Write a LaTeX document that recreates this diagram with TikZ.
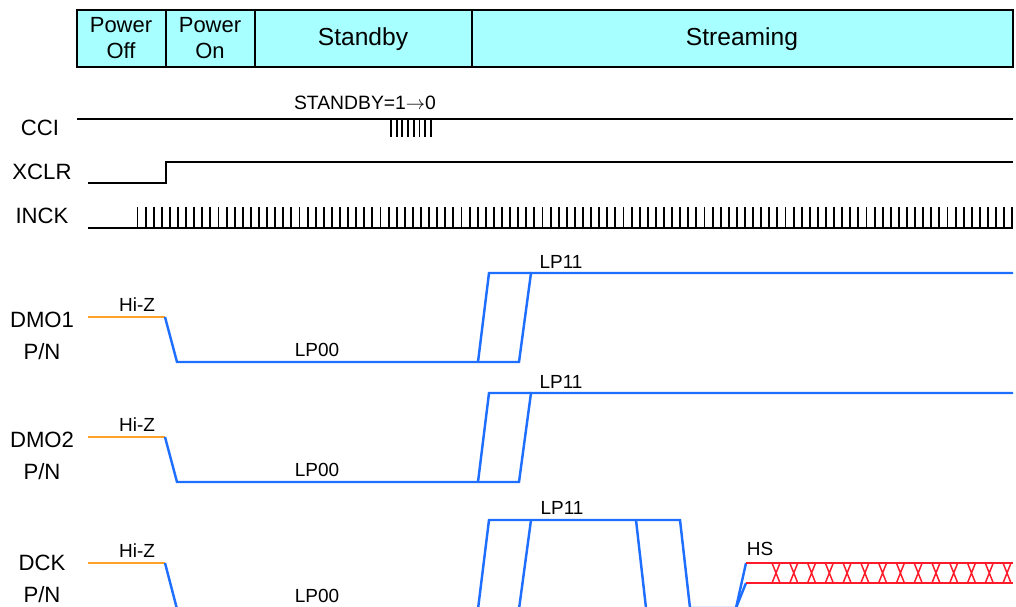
\documentclass[tikz,border=0pt]{standalone}
\usepackage{fontspec}
\setmainfont{Liberation Sans}
\definecolor{modecyan}{HTML}{A8FFFF}
\definecolor{lpblue}{HTML}{1E6EFF}
\definecolor{hizorange}{HTML}{FFA126}
\definecolor{hsred}{HTML}{FF1A2A}

\begin{document}
\begin{tikzpicture}[x=0.02cm, y=-0.02cm,
  sig/.style={line width=1.1pt, black},
  lp/.style={line width=1.4pt, lpblue},
  hiz/.style={line width=1.4pt, hizorange},
  hs/.style={line width=0.85pt, hsred},
  hdr/.style={font=\fontsize{12.5}{14.7}\selectfont, align=center},
  lbl/.style={font=\fontsize{12.6}{18}\selectfont, align=center},
  tag/.style={font=\fontsize{10.8}{12}\selectfont}]

\clip (0,0) rectangle (1016,607);

% mode bar
\draw[fill=modecyan, line width=0.9pt] (77,10) rectangle (1013,67);
\draw[line width=0.9pt] (166,10) -- (166,67);
\draw[line width=0.9pt] (255,10) -- (255,67);
\draw[line width=0.9pt] (472,10) -- (472,67);

\node[hdr] (off) at (121,38) {Power\\Off};
\node[hdr] (on) at (210,38) {Power\\On};
\node[hdr, font=\fontsize{14}{16}\selectfont] (standby) at (363,39) {Standby};
\node[hdr, font=\fontsize{14}{16}\selectfont] (streaming) at (742,39) {Streaming};

% CCI
\node[lbl] (cci) at (40,128) {CCI};
\draw[sig] (77,119) -- (1013,119);
\foreach \i in {0,...,7}
  \draw[sig] (391+5.7*\i,119) -- ++(0,18);
\node[tag, font=\fontsize{11}{12}\selectfont] (cmd) at (365,103) {STANDBY=1$\rightarrow$0};

% XCLR
\node[lbl] (xclr) at (42,172) {XCLR};
\draw[sig] (88,183) -- (166,183) -- (166,162) -- (1013,162);

% INCK
\node[lbl] (inck) at (42,216) {INCK};
\draw[sig] (88,228) -- (1013,228);
\foreach \i in {0,...,108}
  \draw[sig] (137.5+8.1*\i,228) -- ++(0,-21);

% DMO1 and DMO2
\foreach \n/\d in {1/0,2/120} {
  \node[lbl] (dmo\n) at (42,336+\d) {DMO\n\\P/N};
  \draw[hiz] (88,317+\d) -- (165,317+\d);
  \draw[lp] (165,317+\d) -- (177,362+\d) -- (519,362+\d) -- (531,273+\d) -- (1013,273+\d);
  \draw[lp] (478,362+\d) -- (489,273+\d) -- (531,273+\d);
  \node[tag] (hiz\n) at (137,305+\d) {Hi-Z};
  \node[tag] (lpzero\n) at (317,350+\d) {LP00};
  \node[tag] (lpone\n) at (561,262+\d) {LP11};
}

% DCK
\node[lbl] (dck) at (42,579) {DCK\\P/N};
\draw[hiz] (88,563) -- (165,563);
\draw[lp] (165,563) -- (177,609) -- (478,609) -- (489,520) -- (680,520)
  -- (690,608) -- (736,608) -- (746,563);
\draw[lp] (519,609) -- (531,520);
\draw[lp] (636,520) -- (646,608);
\draw[lp] (736,608) -- (746,583);
\node[tag] (hizc) at (137,551) {Hi-Z};
\node[tag] (lpzeroc) at (317,596) {LP00};
\node[tag] (lponec) at (562,508) {LP11};
\node[tag] (hsc) at (760,549) {HS};

% HS burst
\draw[hs] (746,563) -- (1013,563);
\draw[hs] (746,583) -- (1013,583);
\foreach \i in {0,...,13}
  \draw[hs] (772+17.77*\i,563) -- ++(8,20) (780+17.77*\i,563) -- ++(-8,20);

\end{tikzpicture}
\end{document}
